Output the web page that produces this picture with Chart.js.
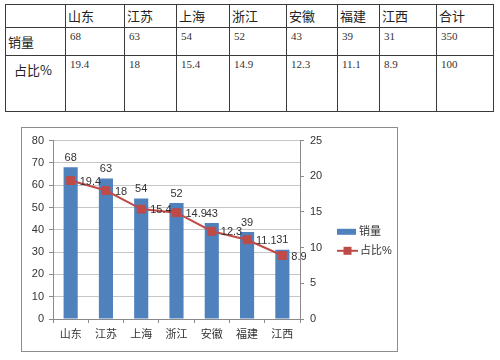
<!DOCTYPE html>
<html>
<head>
<meta charset="utf-8">
<script src="https://cdn.jsdelivr.net/npm/chart.js@4"></script>
<style>
  html, body { margin: 0; padding: 0; background: #fff; }
  body { width: 500px; height: 360px; position: relative; overflow: hidden; }
  #tbl {
    position: absolute; left: 5px; top: 4px;
    border-collapse: collapse; table-layout: fixed;
    font-family: "Noto Sans CJK SC", sans-serif; color: #222;
  }
  #tbl td { border: 1.5px solid #3a3a3a; padding: 0; vertical-align: top; overflow: hidden; line-height: 1.2; }
  #tbl tr.h td { height: 22px; font-size: 13px; vertical-align: middle; padding-left: 2px; }
  #tbl tr.r1 td { height: 25px; }
  #tbl tr.r2 td { height: 49px; }
  #tbl td.num { font-family: "Liberation Serif", serif; font-size: 11px; padding-left: 4px; padding-top: 2px; color: #333; }
  #tbl td.lab { font-size: 13px; }
  #tbl tr.r1 td.lab { vertical-align: middle; padding-left: 2px; }
  #tbl tr.r2 td.lab { padding-left: 8px; padding-top: 6px; }
  #box {
    position: absolute; left: 21px; top: 127px; width: 375px; height: 223px;
    border: 1px solid #8c8c8c;
  }
  #c { display: block; }
</style>
</head>
<body>
<table id="tbl"></table>
<div id="box"><canvas id="c" width="375" height="223"></canvas></div>
<script>
const categories = ['山东', '江苏', '上海', '浙江', '安徽', '福建', '江西'];
const salesValues = [68, 63, 54, 52, 43, 39, 31];
const shareValues = [19.4, 18, 15.4, 14.9, 12.3, 11.1, 8.9];
const seriesNames = ['销量', '占比%'];
const totalLabel = '合计';
const totalSales = 350;
const totalShare = 100;
const leftAxisMax = 80, leftAxisStep = 10;
const rightAxisMax = 25, rightAxisStep = 5;

// ---- table ----
const colWidths = [60, 59, 52, 53, 57, 51, 42, 57, 57];
const tbl = document.getElementById('tbl');
const cg = document.createElement('colgroup');
colWidths.forEach(w => { const c = document.createElement('col'); c.style.width = w + 'px'; cg.appendChild(c); });
tbl.appendChild(cg);
function addRow(cls, first, cells, numeric) {
  const tr = document.createElement('tr'); tr.className = cls;
  const td0 = document.createElement('td'); td0.textContent = first; td0.className = 'lab'; tr.appendChild(td0);
  cells.forEach(v => { const td = document.createElement('td'); td.textContent = v; if (numeric) td.className = 'num'; tr.appendChild(td); });
  tbl.appendChild(tr);
}
addRow('h', '', categories.concat([totalLabel]), false);
addRow('r1', seriesNames[0], salesValues.concat([totalSales]), true);
addRow('r2', seriesNames[1], shareValues.concat([totalShare]), true);

// ---- chart ----
const FONT = "'Liberation Sans', 'Noto Sans CJK SC', sans-serif";
const barColor = '#4F81BD';
const lineColor = '#BE4B48';
const axisColor = '#8a8a8a';
const textColor = '#333';

const labelsPlugin = {
  id: 'valueLabels',
  afterDatasetsDraw(chart) {
    const ctx = chart.ctx;
    ctx.save();
    ctx.font = '11px ' + FONT;
    ctx.fillStyle = textColor;
    chart.data.datasets.forEach((ds, i) => {
      const meta = chart.getDatasetMeta(i);
      meta.data.forEach((el, j) => {
        const v = ds.data[j];
        if (meta.type === 'bar') {
          ctx.textAlign = 'center'; ctx.textBaseline = 'bottom';
          ctx.fillText(String(v), el.x, el.y - 4);
        } else {
          ctx.textAlign = 'left'; ctx.textBaseline = 'middle';
          ctx.fillText(String(v), el.x + 9, el.y + 1);
        }
      });
    });
    ctx.restore();
  },
  afterDraw(chart) {
    const ctx = chart.ctx;
    const ca = chart.chartArea;
    const lx = ca.right + 37;
    const cy = (ca.top + ca.bottom) / 2;
    ctx.save();
    ctx.font = '11px ' + FONT;
    ctx.fillStyle = textColor;
    ctx.textBaseline = 'middle';
    ctx.textAlign = 'left';
    // bar legend
    const y1 = cy + 2;
    ctx.fillStyle = barColor;
    ctx.fillRect(lx, y1 - 3, 19, 6);
    ctx.fillStyle = textColor;
    ctx.fillText(seriesNames[0], lx + 22, y1);
    // line legend
    const y2 = cy + 21;
    ctx.strokeStyle = lineColor; ctx.lineWidth = 2;
    ctx.beginPath(); ctx.moveTo(lx, y2); ctx.lineTo(lx + 21, y2); ctx.stroke();
    ctx.fillStyle = lineColor;
    ctx.fillRect(lx + 10.5 - 4, y2 - 4, 8, 8);
    ctx.fillStyle = textColor;
    ctx.fillText(seriesNames[1], lx + 23, y2);
    ctx.restore();
  }
};

new Chart(document.getElementById('c'), {
  data: {
    labels: categories,
    datasets: [
      {
        type: 'line', label: seriesNames[1], data: shareValues, yAxisID: 'y2', order: 0,
        borderColor: lineColor, backgroundColor: lineColor, borderWidth: 2,
        pointStyle: 'rect', pointRadius: 5.6, pointBorderWidth: 1, tension: 0
      },
      {
        type: 'bar', label: seriesNames[0], data: salesValues, yAxisID: 'y', order: 1,
        backgroundColor: barColor, borderColor: '#3f6fa8', borderWidth: 0,
        categoryPercentage: 1, barPercentage: 0.4
      }
    ]
  },
  options: {
    responsive: false, animation: false, devicePixelRatio: 1,
    layout: { padding: { top: 11, left: 0, right: 0, bottom: 0 } },
    plugins: { legend: { display: false }, tooltip: { enabled: false } },
    scales: {
      x: {
        grid: { offset: true, drawOnChartArea: false, drawTicks: true, tickLength: 4, color: axisColor },
        border: { color: axisColor },
        ticks: { padding: 5, color: textColor, font: { family: FONT, size: 11 } },
        afterFit(s) { s.height = 32; }
      },
      y: {
        position: 'left', min: 0, max: leftAxisMax,
        ticks: { stepSize: leftAxisStep, padding: 5, color: textColor, font: { family: FONT, size: 11 } },
        grid: { color: '#c6c6c6', tickLength: 4, tickColor: axisColor },
        border: { color: axisColor },
        afterFit(s) { s.width = 31; }
      },
      y2: {
        position: 'right', min: 0, max: rightAxisMax,
        ticks: { stepSize: rightAxisStep, padding: 6, color: textColor, font: { family: FONT, size: 11 } },
        grid: { drawOnChartArea: false, tickLength: 4, color: axisColor },
        border: { color: axisColor },
        afterFit(s) { s.width = 97; }
      }
    }
  },
  plugins: [labelsPlugin]
});
</script>
</body>
</html>
